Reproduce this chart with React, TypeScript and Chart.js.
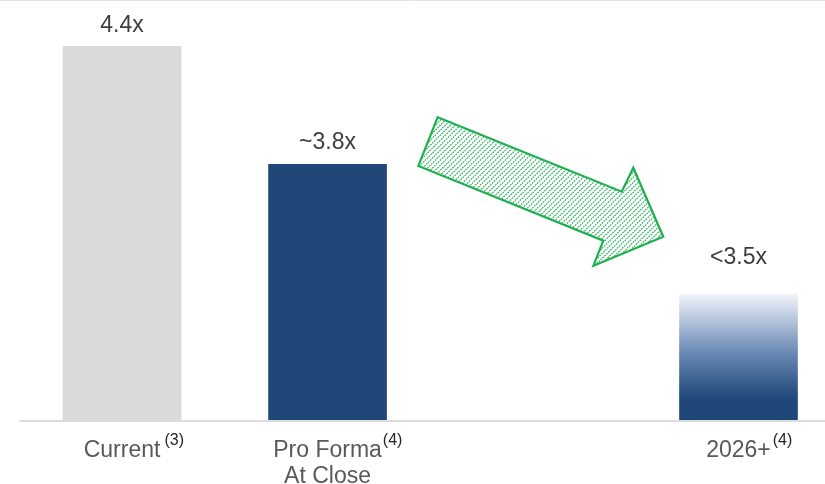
import React, { useEffect, useRef } from "react";
import { Chart, registerables } from "chart.js";

Chart.register(...registerables);

// Leverage ratio by period
const CATEGORIES = ["Current", "Pro Forma", "2026+"];
const CATEGORY_SECOND_LINES = ["", "At Close", ""];
const FOOTNOTES = ["(3)", "(4)", "(4)"];
const X_POSITIONS = [0, 1, 3];
const LEVERAGE = [4.4, 3.8, 3.14];
const VALUE_LABELS = ["4.4x", "~3.8x", "<3.5x"];

// Axis window
const Y_MIN = 2.5;
const Y_MAX = 4.636;
const X_MIN = -0.594;
const X_MAX = 3.421;

// Downward arrow between the second and last bar (data units)
const ARROW_X = [1.536, 2.432, 2.488, 2.634, 2.294, 2.342, 1.442];
const ARROW_Y = [4.04, 3.661, 3.783, 3.432, 3.285, 3.412, 3.792];

const FONT = '"Liberation Sans", Arial, sans-serif';
const GRAY_BAR = "#d9d9d9";
const NAVY = "#1f4778";
const GREEN = "#1db04f";

const labelsPlugin = {
  id: "leverageDecor",
  beforeDatasetsDraw(chart: any) {
    const { ctx } = chart;
    ctx.save();
    // top rule
    ctx.strokeStyle = "#e2e2e2";
    ctx.lineWidth = 1;
    ctx.beginPath();
    ctx.moveTo(0, 0.5);
    ctx.lineTo(chart.width, 0.5);
    ctx.stroke();
    ctx.restore();
  },
  afterDatasetsDraw(chart: any) {
    const { ctx, scales } = chart;
    const x = scales.x;
    const y = scales.y;
    ctx.save();

    // baseline
    const by = y.getPixelForValue(Y_MIN);
    ctx.strokeStyle = "#dcdcdc";
    ctx.lineWidth = 2;
    ctx.beginPath();
    ctx.moveTo(x.getPixelForValue(-0.5), by + 1);
    ctx.lineTo(chart.width, by + 1);
    ctx.stroke();

    // value labels
    const meta = chart.getDatasetMeta(0);
    const gaps = [14.5, 15.5, 30];
    ctx.font = `23px ${FONT}`;
    ctx.fillStyle = "#3d3d3d";
    ctx.textAlign = "center";
    ctx.textBaseline = "alphabetic";
    meta.data.forEach((bar: any, i: number) => {
      ctx.fillText(VALUE_LABELS[i], bar.x, bar.y - gaps[i]);
    });

    // category labels with footnote markers
    const sepGap = [4, 1, 2];
    CATEGORIES.forEach((name, i) => {
      const cx = x.getPixelForValue(X_POSITIONS[i]);
      ctx.font = `23px ${FONT}`;
      ctx.fillStyle = "#595959";
      ctx.textAlign = "center";
      ctx.fillText(name, cx, by + 37);
      const w = ctx.measureText(name).width;
      if (CATEGORY_SECOND_LINES[i]) {
        ctx.fillText(CATEGORY_SECOND_LINES[i], cx, by + 63);
      }
      ctx.font = `16px ${FONT}`;
      ctx.fillStyle = "#262626";
      ctx.textAlign = "left";
      ctx.fillText(FOOTNOTES[i], cx + w / 2 + sepGap[i], by + 25);
    });

    // arrow
    const pts = ARROW_X.map((v, i) => [x.getPixelForValue(v), y.getPixelForValue(ARROW_Y[i])]);
    const path = new Path2D();
    pts.forEach(([px, py], i) => (i === 0 ? path.moveTo(px, py) : path.lineTo(px, py)));
    path.closePath();

    const minX = Math.min(...pts.map((p) => p[0]));
    const maxX = Math.max(...pts.map((p) => p[0]));
    const minY = Math.min(...pts.map((p) => p[1]));
    const maxY = Math.max(...pts.map((p) => p[1]));
    const h = maxY - minY;

    ctx.save();
    ctx.clip(path);
    ctx.strokeStyle = "#22ad55";
    ctx.lineWidth = 1.1;
    ctx.setLineDash([1.8, 0.9]);
    for (let sx = minX - h; sx < maxX + 5; sx += 5) {
      ctx.beginPath();
      ctx.moveTo(sx, maxY);
      ctx.lineTo(sx + h, minY);
      ctx.stroke();
    }
    ctx.restore();

    ctx.strokeStyle = GREEN;
    ctx.lineWidth = 2.2;
    ctx.lineJoin = "miter";
    ctx.stroke(path);

    ctx.restore();
  },
};

export default function App() {
  const canvasRef = useRef<HTMLCanvasElement | null>(null);

  useEffect(() => {
    const canvas = canvasRef.current;
    if (!canvas) return;

    const fillFor = (ctx: any) => {
      const i = ctx.dataIndex;
      if (i === 0) return GRAY_BAR;
      if (i === 1) return NAVY;
      const chart = ctx.chart;
      const area = chart.chartArea;
      if (!area) return NAVY;
      const ys = chart.scales.y;
      const bottom = ys.getPixelForValue(Y_MIN);
      const top = ys.getPixelForValue(LEVERAGE[i]);
      const g = chart.ctx.createLinearGradient(0, bottom, 0, top);
      g.addColorStop(0, NAVY);
      g.addColorStop(0.17, NAVY);
      g.addColorStop(0.55, "#6d8cb8");
      g.addColorStop(1, "#f1f4fa");
      return g;
    };

    const chart = new Chart(canvas, {
      type: "bar",
      data: {
        datasets: [
          {
            data: LEVERAGE.map((v, i) => ({ x: X_POSITIONS[i], y: v })),
            backgroundColor: fillFor,
            borderWidth: 0,
            barThickness: 118,
            base: Y_MIN,
          } as any,
        ],
      },
      options: {
        responsive: false,
        animation: false,
        devicePixelRatio: 1,
        layout: { padding: { top: 0, left: 0, right: 0, bottom: 64 } },
        plugins: {
          legend: { display: false },
          tooltip: { enabled: false },
        },
        scales: {
          x: { type: "linear", min: X_MIN, max: X_MAX, offset: false, display: false },
          y: { type: "linear", min: Y_MIN, max: Y_MAX, display: false },
        },
      },
      plugins: [labelsPlugin],
    });

    return () => chart.destroy();
  }, []);

  return (
    <div style={{ position: "absolute", left: 0, top: 0, width: 825, height: 484, background: "#fff" }}>
      <canvas ref={canvasRef} width={825} height={484} style={{ display: "block" }} />
    </div>
  );
}
